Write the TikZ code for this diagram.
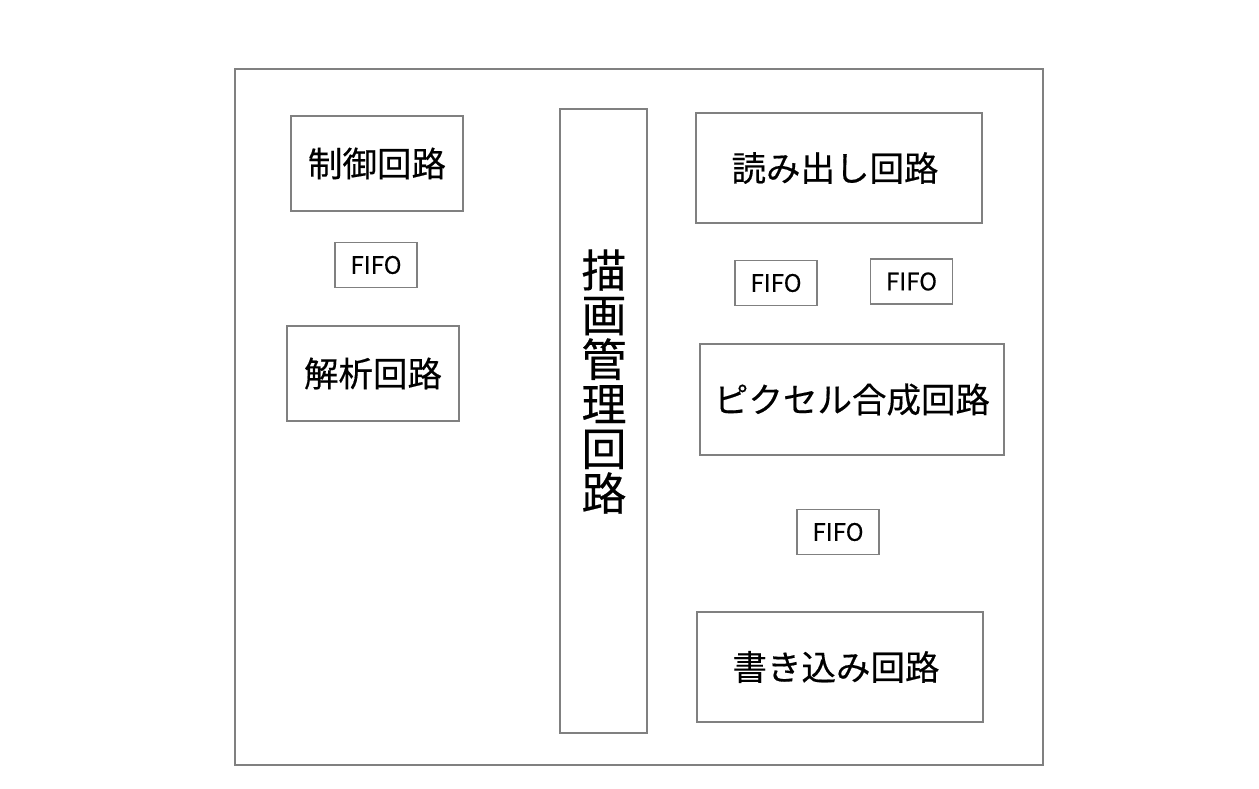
\documentclass[tikz,border=0pt]{standalone}
\usepackage{fontspec}
\setmainfont[FakeBold=0.4,AutoFakeBold=0.4]{Noto Sans CJK JP}
\definecolor{edge}{RGB}{128,128,128}
\begin{document}
\begin{tikzpicture}[x=1pt,y=-1pt,
  block/.style={draw=edge,line width=1.2pt,rectangle,inner sep=0pt,
    font=\bfseries\fontsize{34.5}{38}\selectfont},
  wideblock/.style={block,minimum width=286pt,minimum height=110pt,
    execute at begin node={\kern-8pt}},
  fifo/.style={draw=edge,line width=1.2pt,rectangle,inner sep=0pt,
    minimum width=82pt,minimum height=45pt,font=\bfseries\fontsize{24}{26}\selectfont}]
  \useasboundingbox (0,0) rectangle (1259,788);
  % outer frame
  \node[draw=edge,line width=1.2pt,rectangle,inner sep=0pt,
    minimum width=808pt,minimum height=696pt] (frame) at (639,417) {};
  % left column
  \node[block,minimum width=172pt,minimum height=95pt] (ctrl) at (377,163.5) {制御回路};
  \node[fifo] (fifoA) at (376,265) {FIFO};
  \node[block,minimum width=172pt,minimum height=95pt] (parse) at (373,373.5) {解析回路};
  % drawing management circuit (tall box, vertical label)
  \node[block,minimum width=87pt,minimum height=624pt] (mgr) at (603.5,421) {};
  \node[font=\bfseries\fontsize{45}{44.6}\selectfont,align=center,inner sep=0pt] (mgrlabel) at (604,381.5)
    {描\\画\\管\\理\\回\\路};
  % right column
  \node[wideblock] (read) at (839,168) {読み出し回路};
  \node[fifo] (fifoB) at (776,283) {FIFO};
  \node[fifo] (fifoC) at (911.5,281.5) {FIFO};
  \node[block,minimum width=304pt,minimum height=111pt] (pix) at (852,399.5) {ピクセル合成回路};
  \node[fifo] (fifoD) at (838,532) {FIFO};
  \node[wideblock] (write) at (840,667) {書き込み回路};
\end{tikzpicture}
\end{document}
